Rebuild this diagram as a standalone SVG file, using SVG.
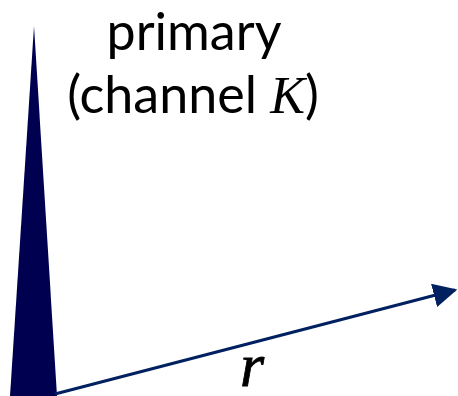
<svg xmlns="http://www.w3.org/2000/svg" width="458" height="396" viewBox="0 0 458 396">
<style>
.lbl{font-family:Lato,"Open Sans",sans-serif;font-size:52px;fill:#000;text-anchor:middle}
.math{font-family:"Liberation Serif","DejaVu Serif",serif;font-style:italic}
</style>
<defs>
<marker id="ah" viewBox="0 0 10 10" refX="9" refY="5" markerWidth="8" markerHeight="8" markerUnits="strokeWidth" orient="auto">
<path d="M0,0 L10,5 L0,10 Z" fill="#002060"/>
</marker>
</defs>
<rect width="458" height="396" fill="#fff"/>
<g id="peak">
<polygon points="34,26 10,396 57,396" fill="#000050"/>
</g>
<g id="connectors">
<line x1="55" y1="394" x2="455" y2="290" stroke="#002060" stroke-width="3" marker-end="url(#ah)"/>
</g>
<g id="label-primary">
<text class="lbl" x="194" y="50">primary</text>
<text class="lbl" x="193" y="113">(channel <tspan class="math">K</tspan>)</text>
</g>
<g id="label-r">
<text class="math" x="252" y="386" font-size="62" text-anchor="middle" stroke="#000" stroke-width="0.8">r</text>
</g>
</svg>
